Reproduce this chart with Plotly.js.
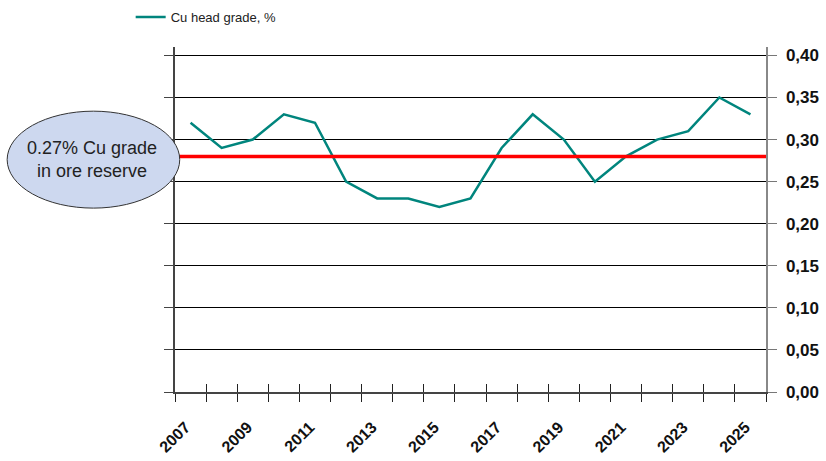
<!DOCTYPE html>
<html>
<head>
<meta charset="utf-8">
<script src="https://cdn.plot.ly/plotly-3.0.1.min.js"></script>
<style>
  html, body { margin: 0; padding: 0; background: #fff; }
  #chart { width: 826px; height: 461px; }
</style>
</head>
<body>
<div id="chart"></div>
<script>
const years = ["2007", "2008", "2009", "2010", "2011", "2012", "2013", "2014", "2015", "2016",
               "2017", "2018", "2019", "2020", "2021", "2022", "2023", "2024", "2025"];
const cuGrade = [0.32, 0.29, 0.30, 0.33, 0.32, 0.25, 0.23, 0.23, 0.22, 0.23,
                 0.29, 0.33, 0.30, 0.25, 0.28, 0.30, 0.31, 0.35, 0.33];
const yearLabels = years.map((y, i) => (i % 2 === 0 ? y : ""));
const reserveGrade = 0.28;
const reserveText = "0.27% Cu grade<br>in ore reserve";
const seriesName = "Cu head grade, %";

function drawChart(id) {
    let trace = {
        x: years,
        y: cuGrade,
        type: "scatter",
        mode: "lines",
        name: seriesName,
        line: {color: "#00857d", width: 2.5},
        hoverinfo: "x+y",
    };

    // empty helper trace so the overlay axes (left axis, inner x ticks) get drawn
    let helper = {
        x: [0],
        y: [0],
        xaxis: "x2",
        yaxis: "y2",
        type: "scatter",
        mode: "markers",
        marker: {opacity: 0},
        showlegend: false,
        hoverinfo: "skip",
    };

    let yFont = {family: "Arial, Liberation Sans, sans-serif", size: 17, color: "#111", weight: "bold"};
    let xFont = {family: "Arial, Liberation Sans, sans-serif", size: 16, color: "#111", weight: "bold"};
    // top of scale a bit over 0.40 so plotly keeps the 0,40 gridline
    const yMax = 0.41;

    let layout = {
        width: 826,
        height: 461,
        margin: {l: 175, r: 60, t: 47, b: 69, autoexpand: false},
        paper_bgcolor: "#fff",
        plot_bgcolor: "#fff",
        separators: ", ",
        showlegend: true,
        legend: {
            x: -0.075, y: 1.087, xanchor: "left", yanchor: "middle",
            font: {family: "Arial, Liberation Sans, sans-serif", size: 13, color: "#222"},
            bgcolor: "rgba(0,0,0,0)",
        },
        xaxis: {
            type: "category",
            tickmode: "array",
            tickvals: years,
            ticktext: yearLabels,
            tickson: "boundaries",
            ticks: "outside",
            ticklen: 8,
            tickcolor: "#222",
            tickangle: -45,
            ticklabelstandoff: 18,
            ticklabelshift: -5,
            tickfont: xFont,
            showgrid: false,
            showline: true,
            linecolor: "#444",
            linewidth: 1.5,
            zeroline: false,
            range: [-0.5, 18.5],
        },
        xaxis2: {
            overlaying: "x",
            anchor: "y2",
            type: "linear",
            range: [-0.5, 18.5],
            tick0: -0.5,
            dtick: 1,
            ticks: "inside",
            ticklen: 8,
            tickcolor: "#222",
            showticklabels: false,
            showgrid: false,
            zeroline: false,
            showline: false,
        },
        yaxis: {
            side: "right",
            range: [0, yMax],
            dtick: 0.05,
            tick0: 0,
            tickformat: ".2f",
            ticks: "outside",
            ticklen: 9,
            tickcolor: "#777",
            ticklabelstandoff: 6,
            tickfont: yFont,
            showgrid: true,
            gridcolor: "#000",
            gridwidth: 1,
            showline: true,
            linecolor: "#888",
            linewidth: 1.5,
            zeroline: false,
        },
        yaxis2: {
            overlaying: "y",
            anchor: "x2",
            side: "left",
            range: [0, yMax],
            dtick: 0.05,
            tick0: 0,
            ticks: "outside",
            ticklen: 9,
            tickcolor: "#444",
            showticklabels: false,
            showgrid: false,
            showline: true,
            linecolor: "#444",
            linewidth: 2,
            zeroline: false,
        },
        shapes: [
            {
                type: "line",
                xref: "paper", yref: "y",
                x0: 0, x1: 1,
                y0: reserveGrade, y1: reserveGrade,
                line: {color: "#ff0000", width: 3.5},
                layer: "above",
            },
            {
                type: "circle",
                xref: "paper", yref: "paper",
                x0: -0.284, x1: 0.008,
                y0: 0.533, y1: 0.814,
                fillcolor: "#cdd8ef",
                line: {color: "#333", width: 1},
                layer: "above",
            },
        ],
        annotations: [
            {
                xref: "paper", yref: "paper",
                x: -0.14, y: 0.675,
                xanchor: "center", yanchor: "middle",
                text: reserveText,
                showarrow: false,
                font: {family: "Arial, Liberation Sans, sans-serif", size: 18, color: "#222"},
                align: "center",
            },
        ],
    };

    let data = [trace, helper];
    let config = {staticPlot: true};

    Plotly.newPlot(id, data, layout, config);
}

window.addEventListener('load', function () {
    drawChart("chart");
})
</script>
</body>
</html>
